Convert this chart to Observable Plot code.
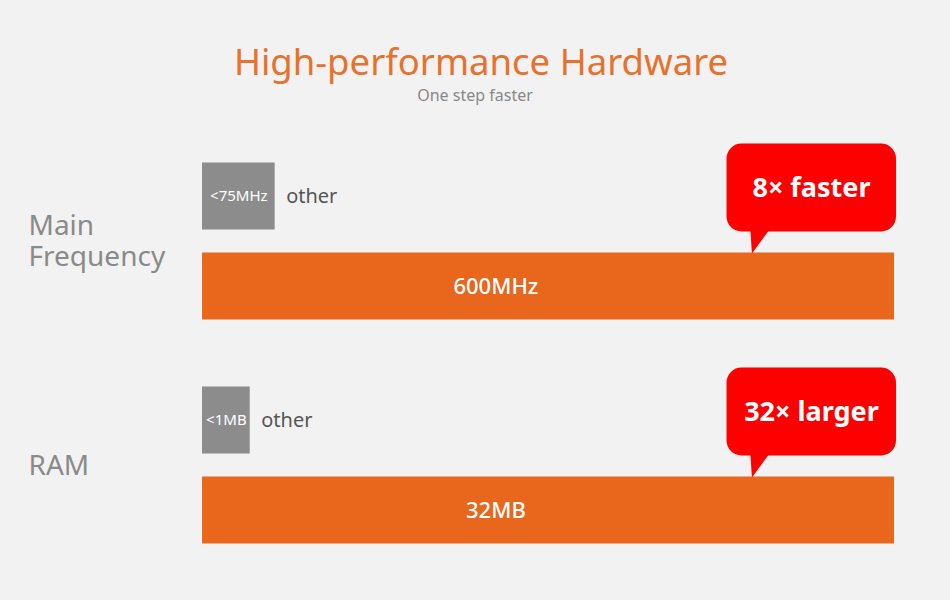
<!DOCTYPE html>
<html>
<head>
<meta charset="utf-8">
<script src="https://cdn.jsdelivr.net/npm/d3@7"></script>
<script src="https://cdn.jsdelivr.net/npm/@observablehq/plot@0.6"></script>
<style>
  html, body { margin: 0; padding: 0; background: #f2f2f2; }
  body { width: 950px; height: 600px; overflow: hidden; font-family: "Noto Sans", sans-serif; }
  #head { position: relative; height: 120px; width: 950px; }
  #title { position: absolute; top: 43px; left: 6px; width: 950px; text-align: center;
           font-size: 36.5px; line-height: 1; color: #e8712b; }
  #subtitle { position: absolute; top: 87px; left: 0; width: 950px; text-align: center;
              font-size: 16px; line-height: 1; color: #888888; }
</style>
</head>
<body>
<div id="head">
  <div id="title">High-performance Hardware</div>
  <div id="subtitle">One step faster</div>
</div>
<div id="chart"></div>
<script>
// ---- data ----
const categories = ["Main Frequency", "RAM"];
const categoryLabels = ["Main\nFrequency", "RAM"];
const rowKinds = ["other", "main"];
const otherLabels = ["<75MHz", "<1MB"];
const otherText = "other";
const otherLengths = [10.5, 6.9];   // relative bar length (main bar = 100)
const mainLabels = ["600MHz", "32MB"];
const mainLengths = [100, 100];
const calloutTexts = ["8× faster", "32× larger"];

// ---- tables built from the arrays ----
const bars = categories.flatMap((cat, i) => [
  {cat, row: "other", value: otherLengths[i], label: otherLabels[i]},
  {cat, row: "main", value: mainLengths[i], label: mainLabels[i]}
]);
const otherBars = bars.filter(d => d.row === "other");
const mainBars = bars.filter(d => d.row === "main");
const callouts = categories.map((cat, i) => ({cat, value: mainLengths[i], text: calloutTexts[i]}));
const catLabels = categories.map((cat, i) => ({cat, text: categoryLabels[i]}));

// speech-bubble tail (tip at origin, pointing down)
const tailSymbol = {
  draw(context) {
    context.moveTo(0, 0);
    context.lineTo(-2, -30);
    context.lineTo(22, -30);
    context.closePath();
  }
};

const ORANGE = "#e8671c";
const GRAY = "#8c8c8c";
const RED = "#fe0000";

const chart = Plot.plot({
  width: 950,
  height: 480,
  marginLeft: 202,
  marginRight: 56,
  marginTop: 41.5,
  marginBottom: 56.5,
  style: {background: "transparent", fontFamily: "'Noto Sans', sans-serif", overflow: "visible"},
  x: {domain: [0, 100], axis: null},
  y: {domain: rowKinds, axis: null, paddingInner: 0.256, paddingOuter: 0},
  fy: {domain: categories, axis: null, paddingInner: 0.3, paddingOuter: 0},
  marks: [
    Plot.barX(otherBars, {x: "value", y: "row", fy: "cat", fill: GRAY}),
    Plot.barX(mainBars, {x: "value", y: "row", fy: "cat", fill: ORANGE}),
    Plot.text(otherBars, {x: d => d.value / 2, y: "row", fy: "cat", text: "label",
      fill: "white", fontSize: 15}),
    Plot.text(otherBars, {x: "value", y: "row", fy: "cat", text: () => otherText,
      textAnchor: "start", dx: 11, fill: "#555555", fontSize: 20}),
    Plot.text(mainBars, {x: d => d.value * 0.424, y: "row", fy: "cat", text: "label",
      fill: "white", fontSize: 22, fontWeight: 500}),
    // callouts
    Plot.barX(callouts, {x1: d => d.value * 0.758, x2: "value", y: () => "other", fy: "cat",
      fill: RED, rx: 15, insetTop: -19, insetBottom: -2, insetRight: -2}),
    Plot.dot(callouts, {x: d => d.value * 0.794, y: () => "main", fy: "cat",
      symbol: tailSymbol, r: 10, fill: RED, dy: -33}),
    Plot.text(callouts, {x: d => d.value * 0.88, y: () => "other", fy: "cat", text: "text",
      fill: "white", fontSize: 27, fontWeight: "bold", dy: -8}),
    // category labels
    Plot.text(catLabels, {fy: "cat", frameAnchor: "left", text: "text", textAnchor: "start",
      dx: -174, fontSize: 28, lineHeight: 1.1, fill: "#8a8a8a"})
  ]
});
document.getElementById("chart").appendChild(chart);
</script>
</body>
</html>
